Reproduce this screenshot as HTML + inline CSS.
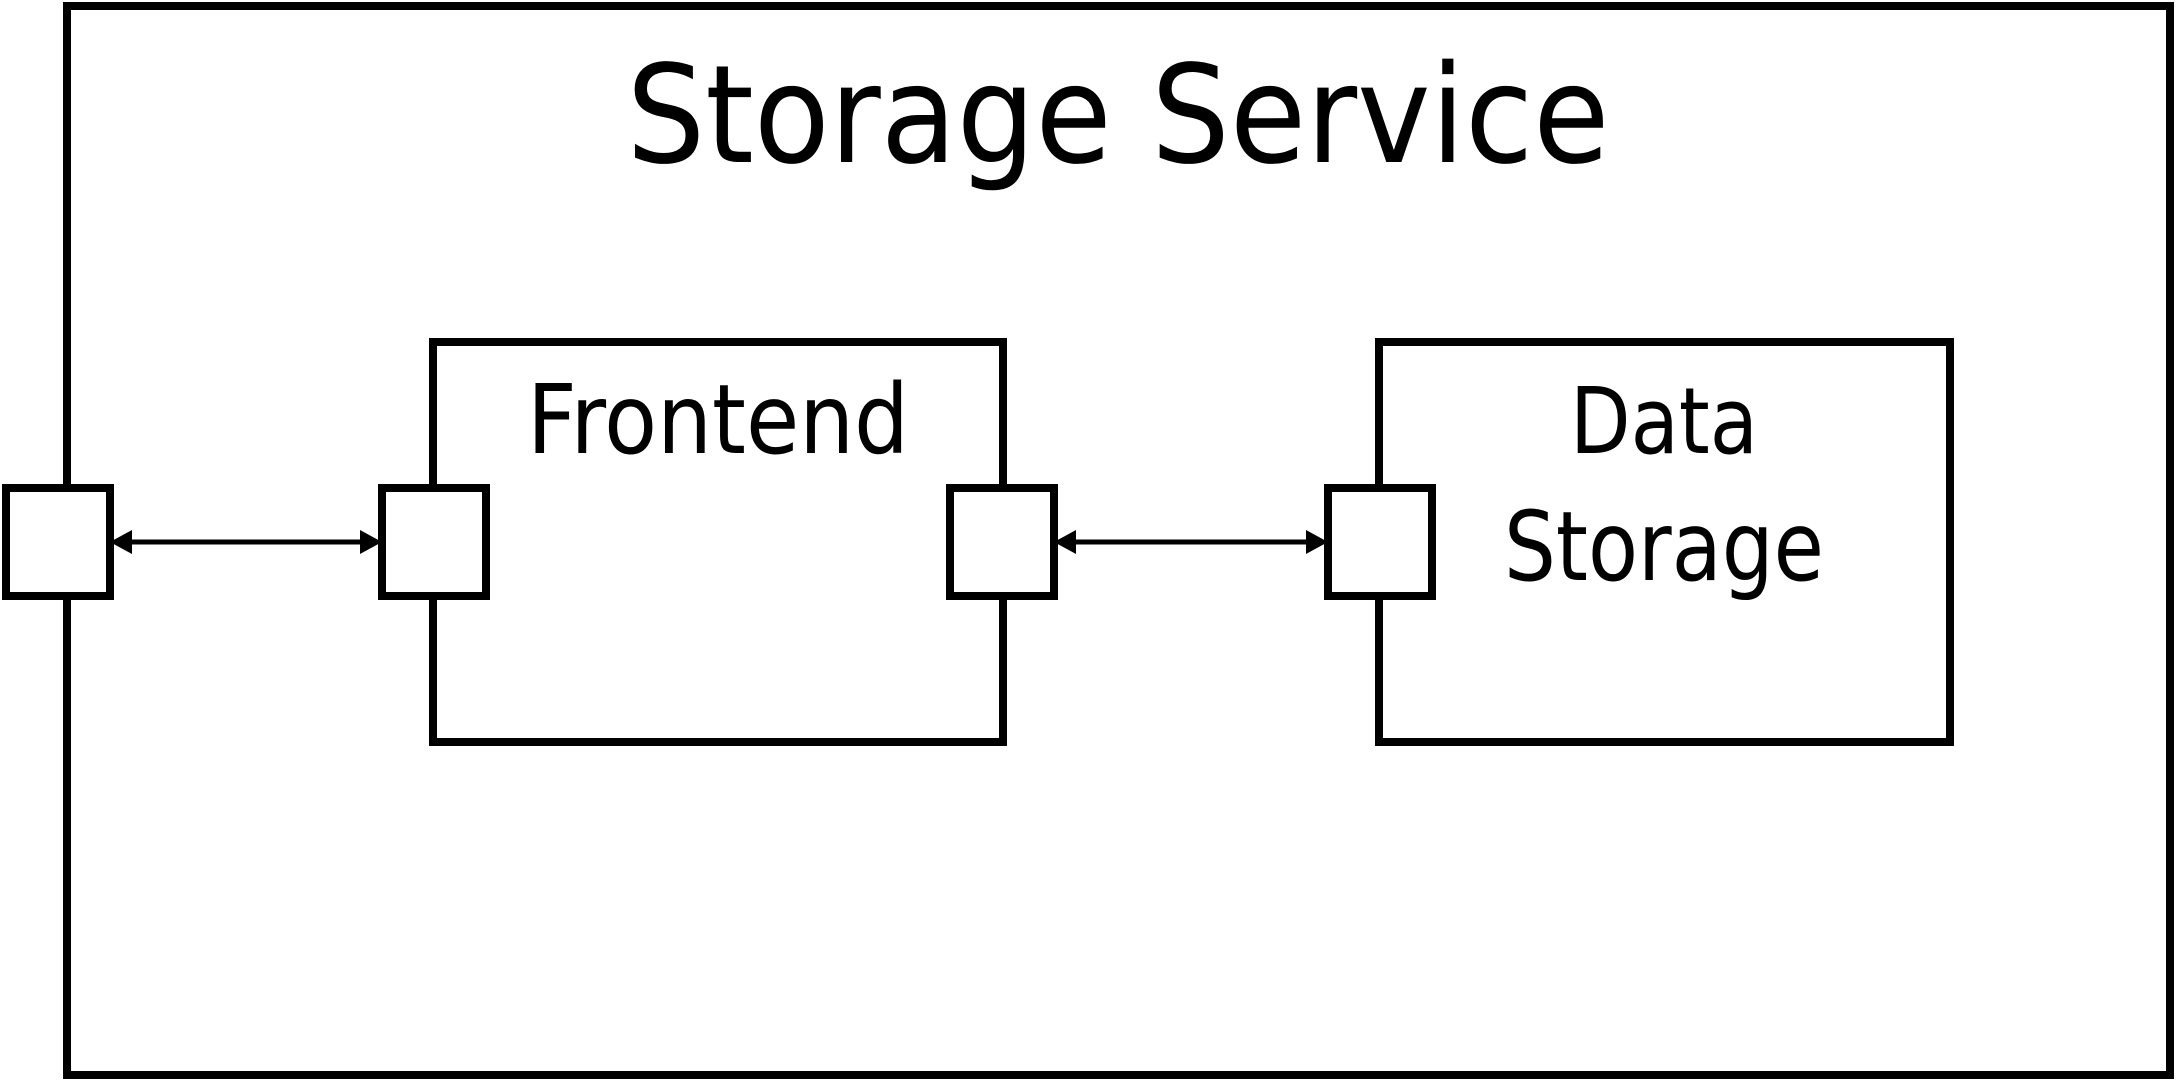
<!DOCTYPE html>
<html><head><style>
html,body{margin:0;padding:0;background:#fff;}
svg{display:block;}
text{font-family:"DejaVu Sans","Liberation Sans",sans-serif;fill:#000;}
</style></head><body>
<svg width="2178" height="1081" viewBox="0 0 2178 1081" xmlns="http://www.w3.org/2000/svg">
<g fill="#fff" stroke="#000" stroke-width="8">
<rect x="67" y="6" width="2103" height="1069"/>
<rect x="433" y="342" width="570" height="400"/>
<rect x="1379" y="342" width="571" height="400"/>
<rect x="6" y="488" width="104" height="108"/>
<rect x="382" y="488" width="104" height="108"/>
<rect x="950" y="488" width="104" height="108"/>
<rect x="1328" y="488" width="104" height="108"/>
</g>
<g stroke="#000" stroke-width="5">
<line x1="125" y1="542" x2="367" y2="542"/>
<line x1="1069" y1="542" x2="1313" y2="542"/>
</g>
<g fill="#000">
<polygon points="110,542 132,530 132,554"/>
<polygon points="382,542 360,530 360,554"/>
<polygon points="1054,542 1076,530 1076,554"/>
<polygon points="1328,542 1306,530 1306,554"/>
</g>
<text x="1118" y="162" font-size="136" text-anchor="middle" textLength="983" lengthAdjust="spacingAndGlyphs">Storage Service</text>
<text x="718" y="453" font-size="96" text-anchor="middle" textLength="382" lengthAdjust="spacingAndGlyphs">Frontend</text>
<text x="1378" y="453" font-size="92" text-anchor="middle" textLength="188" lengthAdjust="spacingAndGlyphs" transform="translate(286,0)">Data</text>
<text x="1664" y="580" font-size="96" text-anchor="middle" textLength="320" lengthAdjust="spacingAndGlyphs">Storage</text>
</svg>
</body></html>
